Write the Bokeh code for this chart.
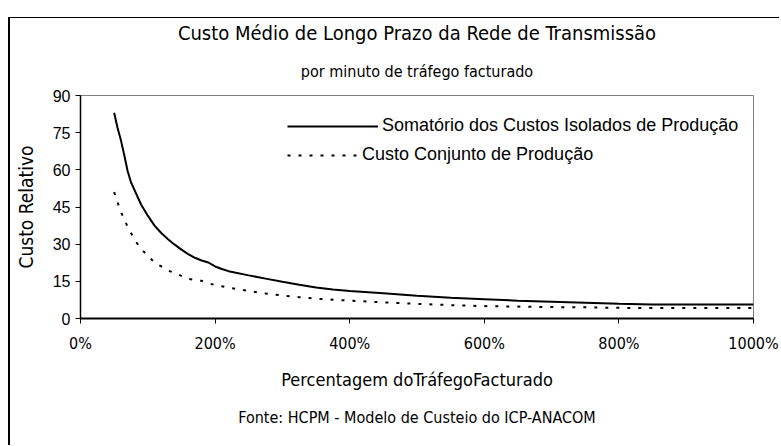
from bokeh.plotting import figure
from bokeh.models import (Range1d, FixedTicker, PrintfTickFormatter, Legend,
                          LegendItem, Title)
from bokeh.embed import file_html
from bokeh.resources import INLINE

# ---- data ----
pct = [50, 55, 60, 65, 70, 75, 80, 90, 100, 110, 120, 130, 140, 150, 160, 170, 180, 190,
       200, 210, 220, 250, 275, 300, 325, 350, 375, 400, 450, 500, 550, 600, 650, 700,
       750, 800, 850, 900, 950, 1000]
isolados = [83, 77, 72, 66, 59.5, 55, 52, 46, 41.5, 37.5, 34.5, 32, 29.8, 27.8, 26, 24.5,
            23.4, 22.6, 21, 20, 19.1, 17.4, 16.1, 14.8, 13.6, 12.5, 11.7, 11.1, 10.2, 9.2,
            8.4, 7.8, 7.2, 6.8, 6.4, 6.0, 5.7, 5.6, 5.6, 5.6]
conjunto = [51, 47, 43, 40, 37, 34.5, 32, 28, 25.5, 22.5, 21, 19.4, 18.3, 17.2, 16, 15.5,
            15.2, 14.2, 13.5, 13, 12.4, 11.1, 10.1, 9.3, 8.6, 8.0, 7.6, 7.2, 6.5, 5.9,
            5.4, 5.0, 4.8, 4.6, 4.5, 4.3, 4.2, 4.2, 4.2, 4.2]
x_ticks = [0, 200, 400, 600, 800, 1000]
y_ticks = [0, 15, 30, 45, 60, 75, 90]
series_names = ["Somatório dos Custos Isolados de Produção", "Custo Conjunto de Produção"]
title_text = "Custo Médio de Longo Prazo da Rede de Transmissão"
subtitle_text = "por minuto de tráfego facturado"
x_label = "Percentagem doTráfegoFacturado"
y_label = "Custo Relativo"
source_text = "Fonte: HCPM - Modelo de Custeio do ICP-ANACOM"

NARROW = "DejaVu Sans Condensed, Liberation Sans Narrow, Liberation Sans"
REG = "Liberation Sans"

W, H = 771, 428
p = figure(width=W, height=H, output_backend="svg", toolbar_location=None,
           x_range=Range1d(0, 1000), y_range=Range1d(0, 90),
           min_border_left=70, min_border_right=28, min_border_top=74, min_border_bottom=128,
           styles={"border-top": "1px solid black", "border-left": "2px solid black",
                   "margin-top": "17px", "margin-left": "8px"})
p.background_fill_color = "white"
p.border_fill_color = "white"
p.outline_line_color = "#808080"
p.outline_line_width = 1
p.grid.visible = False

# axes
p.xaxis.ticker = FixedTicker(ticks=x_ticks)
p.xaxis.formatter = PrintfTickFormatter(format="%d%%")
p.yaxis.ticker = FixedTicker(ticks=y_ticks)
for ax in (p.xaxis, p.yaxis):
    ax.axis_line_color = "black"
    ax.major_tick_line_color = "black"
    ax.minor_tick_line_color = None
    ax.major_tick_in = 0
    ax.major_tick_out = 5
    ax.major_label_text_color = "black"
    ax.axis_label_text_color = "black"
    ax.axis_label_text_font_style = "normal"
p.xaxis.axis_line_width = 2
p.yaxis.axis_line_width = 1.5
p.xaxis.major_label_text_font = NARROW
p.xaxis.major_label_text_font_size = "16px"
p.xaxis.major_label_standoff = 10
p.yaxis.major_label_text_font = REG
p.yaxis.major_label_text_font_size = "16px"
p.yaxis.major_label_standoff = 5
p.xaxis.axis_label = x_label
p.xaxis.axis_label_text_font = NARROW
p.xaxis.axis_label_text_font_size = "18px"
p.xaxis.axis_label_standoff = 13
p.yaxis.axis_label = y_label
p.yaxis.axis_label_text_font = NARROW
p.yaxis.axis_label_text_font_size = "19px"
p.yaxis.axis_label_standoff = 13

# series
r1 = p.line(pct, isolados, line_color="black", line_width=2)
r2 = p.line(pct, conjunto, line_color="black", line_width=2, line_dash="3 8")

# legends (two, to have different glyph lengths as in the reference)
common = dict(padding=0, margin=0, spacing=0, border_line_alpha=0, background_fill_alpha=0,
              glyph_height=20, label_height=20, label_text_font=REG,
              label_text_font_size="18px", label_text_color="black")
lg1 = Legend(items=[LegendItem(label=series_names[0], renderers=[r1])],
             location=(207, 182), glyph_width=91, label_standoff=4, **common)
lg2 = Legend(items=[LegendItem(label=series_names[1], renderers=[r2])],
             location=(207, 153), glyph_width=73, label_standoff=2, **common)
p.add_layout(lg1)
p.add_layout(lg2)

# titles and source
p.add_layout(Title(text=subtitle_text, align="center", text_font=NARROW,
                   text_font_size="16px", text_font_style="normal", text_color="black",
                   standoff=30), "above")
p.add_layout(Title(text=title_text, align="center", text_font=NARROW,
                   text_font_size="20px", text_font_style="normal", text_color="black",
                   standoff=0), "above")
p.add_layout(Title(text=source_text, align="center", text_font=NARROW,
                   text_font_size="16px", text_font_style="normal", text_color="black",
                   standoff=26), "below")

open("out.html", "w").write(file_html(p, INLINE))
